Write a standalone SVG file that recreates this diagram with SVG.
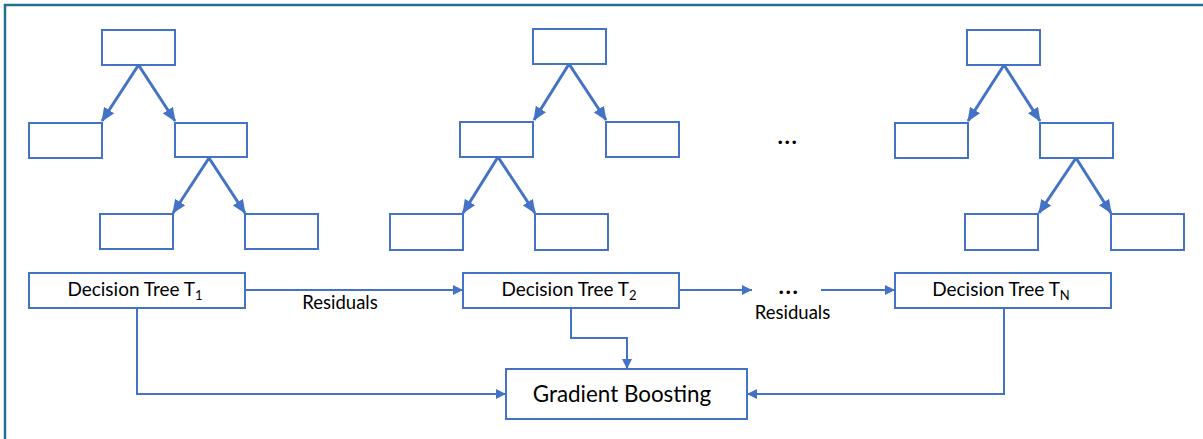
<svg xmlns="http://www.w3.org/2000/svg" width="1203" height="439" viewBox="0 0 1203 439">
  <style>
    .box { fill: #ffffff; stroke: #4472C4; stroke-width: 2; }
    .branch { fill: none; stroke: #4472C4; stroke-width: 3; marker-end: url(#treeHead); }
    .flow { fill: none; stroke: #4472C4; stroke-width: 2; }
    .flow.arrow { marker-end: url(#flowHead); }
    .lbl { font-family: Lato, "Liberation Sans", Arial, sans-serif; fill: #000000; text-anchor: middle; }
    .dots { font-family: Lato, "Liberation Sans", Arial, sans-serif; font-weight: bold; fill: #000000; text-anchor: middle; font-size: 23px; letter-spacing: 1.5px; }
  </style>
  <defs>
    <marker id="treeHead" markerUnits="userSpaceOnUse" markerWidth="14" markerHeight="12" refX="13" refY="6" orient="auto">
      <path d="M0,0 L14,6 L0,12 Z" fill="#4472C4"/>
    </marker>
    <marker id="flowHead" markerUnits="userSpaceOnUse" markerWidth="10" markerHeight="10" refX="10" refY="5" orient="auto">
      <path d="M0,0 L10,5 L0,10 Z" fill="#4472C4"/>
    </marker>
  </defs>

  <rect width="1203" height="439" fill="#ffffff"/>
  <!-- outer frame: top and left edges -->
  <path d="M5,439 V5 H1203" fill="none" stroke="#24708f" stroke-width="2.5"/>

  <!-- tree 1 -->
  <g id="tree1">
    <rect class="box" x="102" y="30" width="73" height="35"/>
    <rect class="box" x="29" y="123" width="73" height="35"/>
    <rect class="box" x="175" y="123" width="72" height="34"/>
    <rect class="box" x="100" y="214" width="73" height="35"/>
    <rect class="box" x="245" y="214" width="73" height="35"/>
    <line class="branch" x1="138.5" y1="65" x2="102" y2="121"/>
    <line class="branch" x1="138.5" y1="65" x2="175" y2="121"/>
    <line class="branch" x1="209" y1="158" x2="173" y2="213"/>
    <line class="branch" x1="209" y1="158" x2="245" y2="213"/>
  </g>

  <!-- tree 2 -->
  <g id="tree2">
    <rect class="box" x="533" y="29" width="73" height="35"/>
    <rect class="box" x="460" y="122" width="73" height="35"/>
    <rect class="box" x="606" y="122" width="73" height="35"/>
    <rect class="box" x="390" y="214" width="73" height="36"/>
    <rect class="box" x="535" y="214" width="73" height="36"/>
    <line class="branch" x1="569" y1="64" x2="534" y2="120"/>
    <line class="branch" x1="569" y1="64" x2="606" y2="120"/>
    <line class="branch" x1="498" y1="157" x2="463" y2="213"/>
    <line class="branch" x1="498" y1="157" x2="535" y2="213"/>
  </g>

  <!-- more trees -->
  <text class="dots" x="788" y="144">...</text>

  <!-- tree N -->
  <g id="treeN">
    <rect class="box" x="967" y="30" width="73" height="35"/>
    <rect class="box" x="895" y="123" width="73" height="35"/>
    <rect class="box" x="1040" y="123" width="73" height="35"/>
    <rect class="box" x="965" y="214" width="73" height="36"/>
    <rect class="box" x="1111" y="214" width="73" height="36"/>
    <line class="branch" x1="1004" y1="65" x2="968" y2="121"/>
    <line class="branch" x1="1004" y1="65" x2="1040" y2="121"/>
    <line class="branch" x1="1076" y1="158" x2="1039" y2="213"/>
    <line class="branch" x1="1076" y1="158" x2="1111" y2="213"/>
  </g>

  <!-- connectors -->
  <g id="connectors">
    <line class="flow arrow" x1="245" y1="290" x2="463" y2="290"/>
    <line class="flow arrow" x1="679" y1="290" x2="752" y2="290"/>
    <line class="flow arrow" x1="821" y1="290" x2="895" y2="290"/>
    <path class="flow arrow" d="M137,308 V394 H506"/>
    <path class="flow arrow" d="M571,308 V338 H627 V369"/>
    <path class="flow arrow" d="M1004,308 V394 H747"/>
  </g>

  <text class="lbl" x="340" y="309" font-size="18.5">Residuals</text>
  <text class="dots" x="789" y="294">...</text>
  <text class="lbl" x="792.5" y="318.5" font-size="18.5">Residuals</text>

  <!-- ensemble stages -->
  <g id="dt1">
    <rect class="box" x="29" y="273" width="216" height="35"/>
    <text class="lbl" x="135" y="296" font-size="19">Decision Tree T<tspan font-size="13" dy="4">1</tspan></text>
  </g>
  <g id="dt2">
    <rect class="box" x="463" y="273" width="216" height="35"/>
    <text class="lbl" x="569" y="296" font-size="19">Decision Tree T<tspan font-size="13" dy="4">2</tspan></text>
  </g>
  <g id="dtN">
    <rect class="box" x="895" y="273" width="216" height="35"/>
    <text class="lbl" x="1001" y="296" font-size="19">Decision Tree T<tspan font-size="13" dy="4">N</tspan></text>
  </g>
  <g id="gb">
    <rect class="box" x="506" y="369" width="241" height="50"/>
    <text class="lbl" x="622" y="402" font-size="22.4">Gradient Boosting</text>
  </g>
</svg>
